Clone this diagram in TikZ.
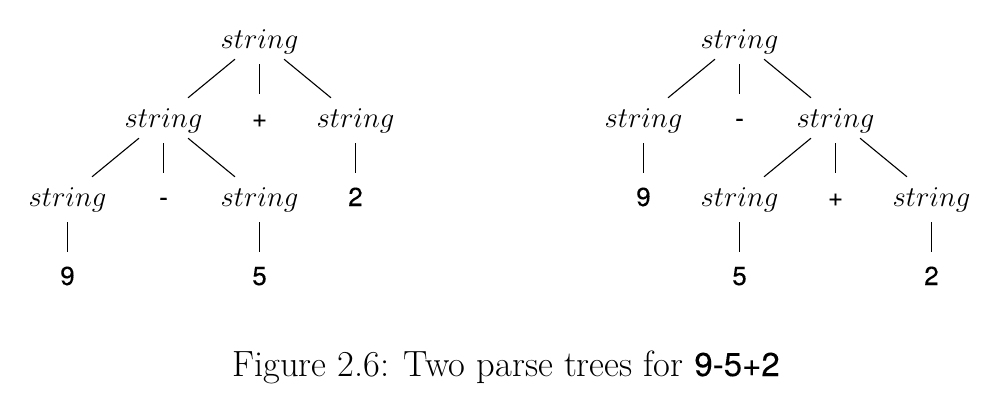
\documentclass[tikz,border=0pt]{standalone}
\usepackage{fix-cm}
\usepackage{fontspec}
\newfontfamily\termfont[FakeBold=0.15]{TeX Gyre Heros}
\tikzset{
  x=1pt, y=-1pt,
}
\tikzstyle{every node}=[inner sep=0pt, text height=29pt, text depth=11pt, anchor=base]
\tikzstyle{nonterm}=[font=\fontsize{28.7}{31}\selectfont]
\tikzstyle{term}=[font=\termfont\fontsize{26}{30}\selectfont]
\tikzstyle{branch}=[line width=1.1pt]
\tikzstyle{vbranch}=[branch, shorten <=5pt, shorten >=4pt]

\begin{document}
\begin{tikzpicture}
  \useasboundingbox (0,0) rectangle (998,407);
  % left tree: (9-5)+2
  \node[nonterm] (l) at (259.5,48) {$string$};
  \node[nonterm] (la) at (163.5,127) {$string$};
  \node[term] (lplus) at (259.5,127) {+};
  \node[nonterm] (lb) at (355.5,127) {$string$};
  \node[nonterm] (laa) at (67.5,206) {$string$};
  \node[term] (lminus) at (163.5,206) {-};
  \node[nonterm] (lab) at (259.5,206) {$string$};
  \node[term] (ltwo) at (355.5,206) {2};
  \node[term] (lnine) at (67.5,285) {9};
  \node[term] (lfive) at (259.5,285) {5};
  \draw[branch] (l) -- (la);
  \draw[vbranch] (l) -- (lplus);
  \draw[branch] (l) -- (lb);
  \draw[branch] (la) -- (laa);
  \draw[vbranch] (la) -- (lminus);
  \draw[branch] (la) -- (lab);
  \draw[vbranch] (lb) -- (ltwo);
  \draw[vbranch] (laa) -- (lnine);
  \draw[vbranch] (lab) -- (lfive);
  % right tree: 9-(5+2)
  \node[nonterm] (r) at (739.5,48) {$string$};
  \node[nonterm] (ra) at (643.5,127) {$string$};
  \node[term] (rminus) at (739.5,127) {-};
  \node[nonterm] (rb) at (835.5,127) {$string$};
  \node[term] (rnine) at (643.5,206) {9};
  \node[nonterm] (rba) at (739.5,206) {$string$};
  \node[term] (rplus) at (835.5,206) {+};
  \node[nonterm] (rbb) at (931.5,206) {$string$};
  \node[term] (rfive) at (739.5,285) {5};
  \node[term] (rtwo) at (931.5,285) {2};
  \draw[branch] (r) -- (ra);
  \draw[vbranch] (r) -- (rminus);
  \draw[branch] (r) -- (rb);
  \draw[vbranch] (ra) -- (rnine);
  \draw[branch] (rb) -- (rba);
  \draw[vbranch] (rb) -- (rplus);
  \draw[branch] (rb) -- (rbb);
  \draw[vbranch] (rba) -- (rfive);
  \draw[vbranch] (rbb) -- (rtwo);
  % caption
  \node[font=\fontsize{36.5}{40}\selectfont] (caption) at (506,376)
    {Figure 2.6: Two parse trees for {\termfont\fontsize{33}{40}\selectfont 9-5+2}};
\end{tikzpicture}
\end{document}
